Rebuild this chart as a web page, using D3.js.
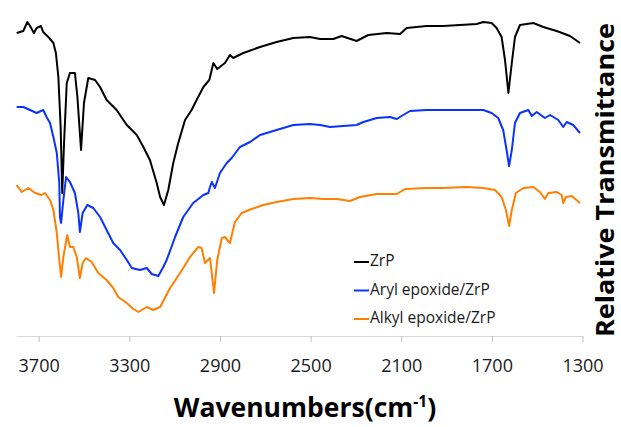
<!DOCTYPE html>
<html>
<head>
<meta charset="utf-8">
<script src="https://cdn.jsdelivr.net/npm/d3@7"></script>
<style>
  body { margin: 0; background: #fff; }
  text { font-family: "Open Sans", sans-serif; }
</style>
</head>
<body>
<svg id="chart" width="621" height="427"></svg>
<script>
// wavenumbers (cm-1) and relative transmittance (arbitrary units)
var zrpWn = [3797, 3768, 3750, 3738, 3721, 3709, 3690, 3680, 3653, 3635, 3624, 3613, 3603, 3596, 3588, 3576, 3562, 3540, 3529, 3513, 3500, 3481, 3451, 3429, 3400, 3356, 3311, 3267, 3238, 3209, 3179, 3164, 3147, 3128, 3106, 3084, 3054, 3025, 3003, 2973, 2947, 2929, 2912, 2878, 2856, 2841, 2797, 2723, 2650, 2576, 2503, 2458, 2400, 2363, 2297, 2245, 2164, 2105, 2076, 1988, 1914, 1841, 1767, 1738, 1701, 1679, 1657, 1642, 1627, 1612, 1598, 1576, 1517, 1473, 1414, 1355, 1311];
var zrpT = [303, 305, 314, 310, 303, 308, 310, 304, 298, 293, 283, 259, 209, 143, 193, 253, 263, 263, 239, 186, 233, 258, 256, 249, 236, 226, 211, 201, 189, 176, 153, 139, 131, 146, 173, 193, 216, 226, 236, 249, 256, 273, 267, 273, 281, 278, 283, 289, 294, 298, 299, 297, 297, 300, 295, 301, 303, 302, 308, 310, 310, 311, 312, 314, 313, 308, 299, 276, 243, 273, 299, 311, 313, 309, 305, 300, 293];

var arylWn = [3797, 3768, 3738, 3709, 3680, 3665, 3650, 3635, 3620, 3609, 3606, 3601, 3591, 3579, 3562, 3540, 3525, 3518, 3506, 3485, 3459, 3429, 3400, 3371, 3341, 3311, 3289, 3253, 3223, 3201, 3172, 3150, 3135, 3098, 3062, 3018, 2973, 2951, 2944, 2936, 2922, 2900, 2870, 2848, 2812, 2767, 2723, 2650, 2576, 2503, 2458, 2414, 2356, 2297, 2267, 2208, 2150, 2120, 2091, 2061, 1988, 1914, 1841, 1767, 1738, 1701, 1672, 1650, 1635, 1624, 1612, 1598, 1576, 1539, 1524, 1502, 1466, 1443, 1407, 1385, 1370, 1341, 1311];
var arylT = [229, 229, 226, 223, 226, 219, 213, 199, 183, 153, 119, 113, 136, 159, 154, 143, 123, 104, 123, 131, 128, 119, 106, 93, 86, 76, 68, 66, 68, 62, 60, 69, 76, 99, 119, 133, 141, 143, 149, 154, 148, 163, 173, 178, 189, 194, 201, 206, 211, 212, 211, 209, 210, 211, 214, 218, 219, 217, 221, 225, 226, 226, 226, 226, 226, 223, 218, 206, 186, 170, 186, 213, 223, 226, 220, 224, 218, 221, 216, 209, 214, 211, 203];

var alkylWn = [3797, 3775, 3746, 3716, 3687, 3672, 3650, 3635, 3620, 3609, 3601, 3591, 3574, 3562, 3547, 3532, 3518, 3506, 3491, 3466, 3437, 3400, 3371, 3349, 3311, 3282, 3260, 3223, 3194, 3164, 3120, 3076, 3032, 2996, 2981, 2966, 2944, 2926, 2912, 2892, 2878, 2856, 2834, 2804, 2760, 2709, 2650, 2576, 2503, 2444, 2385, 2326, 2282, 2208, 2120, 2083, 1988, 1914, 1811, 1738, 1686, 1657, 1638, 1624, 1612, 1594, 1561, 1517, 1488, 1466, 1451, 1414, 1392, 1385, 1373, 1348, 1311];
var alkylT = [151, 144, 148, 143, 141, 143, 136, 126, 103, 76, 59, 79, 101, 89, 89, 79, 58, 73, 78, 74, 63, 56, 48, 39, 33, 27, 24, 29, 26, 29, 48, 63, 79, 89, 88, 73, 78, 43, 76, 98, 99, 93, 114, 123, 127, 131, 134, 137, 138, 137, 137, 135, 139, 142, 142, 147, 148, 148, 149, 148, 146, 139, 126, 110, 126, 143, 148, 149, 144, 137, 143, 144, 141, 133, 139, 140, 133];

var seriesNames = ["ZrP", "Aryl epoxide/ZrP", "Alkyl epoxide/ZrP"];
var seriesColors = ["#000000", "#0a32ff", "#ff7f00"];
var tickValues = [3700, 3300, 2900, 2500, 2100, 1700, 1300];

var series = [
  { name: seriesNames[0], color: seriesColors[0], wn: zrpWn, t: zrpT },
  { name: seriesNames[1], color: seriesColors[1], wn: arylWn, t: arylT },
  { name: seriesNames[2], color: seriesColors[2], wn: alkylWn, t: alkylT }
];

var svg = d3.select("#chart");

var x = d3.scaleLinear().domain([3800, 1300]).range([16, 582.5]);
var y = d3.scaleLinear().domain([0, 326]).range([336, 10]);

// x axis
var xAxis = svg.append("g")
  .attr("transform", "translate(0,336)")
  .call(d3.axisBottom(x)
    .tickValues(tickValues)
    .tickFormat(d3.format("d"))
    .tickSize(6).tickSizeOuter(0).tickPadding(17));
xAxis.select(".domain").attr("stroke", "#d9d9d9").attr("stroke-width", 1.2);
xAxis.selectAll(".tick line").attr("stroke", "#bfbfbf");
xAxis.selectAll(".tick text")
  .attr("font-family", "Open Sans, sans-serif")
  .attr("font-size", 18)
  .attr("fill", "#1a1a1a");

// spectra
var line = d3.line()
  .x(function(d){ return x(d[0]); })
  .y(function(d){ return y(d[1]); });

series.forEach(function(s){
  var pts = s.wn.map(function(w, i){ return [w, s.t[i]]; });
  svg.append("path")
    .datum(pts)
    .attr("fill", "none")
    .attr("stroke", s.color)
    .attr("stroke-width", 2)
    .attr("stroke-linejoin", "round")
    .attr("d", line);
});

// legend
var legend = svg.append("g").attr("transform", "translate(354,262)");
series.forEach(function(s, i){
  var g = legend.append("g").attr("transform", "translate(0," + i * 28.5 + ")");
  g.append("line")
    .attr("x1", 0).attr("x2", 15)
    .attr("y1", 0).attr("y2", 0)
    .attr("stroke", s.color)
    .attr("stroke-width", 2);
  g.append("text")
    .attr("x", 16)
    .attr("y", 0)
    .attr("dominant-baseline", "middle")
    .attr("font-size", 15.5)
    .attr("fill", "#1a1a1a")
    .text(s.name);
});

// axis titles
var xt = svg.append("text")
  .attr("x", 305)
  .attr("y", 417)
  .attr("text-anchor", "middle")
  .attr("font-size", 26.5)
  .attr("font-weight", "bold")
  .attr("fill", "#000");
xt.append("tspan").text("Wavenumbers(cm");
xt.append("tspan").attr("font-size", 15.5).attr("dy", -10).text("-1");
xt.append("tspan").attr("dy", 10).text(")");

svg.append("text")
  .attr("transform", "translate(614,180) rotate(-90)")
  .attr("text-anchor", "middle")
  .attr("font-size", 25)
  .attr("font-weight", "bold")
  .attr("textLength", 314)
  .attr("lengthAdjust", "spacingAndGlyphs")
  .attr("fill", "#000")
  .text("Relative Transmittance");
</script>
</body>
</html>
